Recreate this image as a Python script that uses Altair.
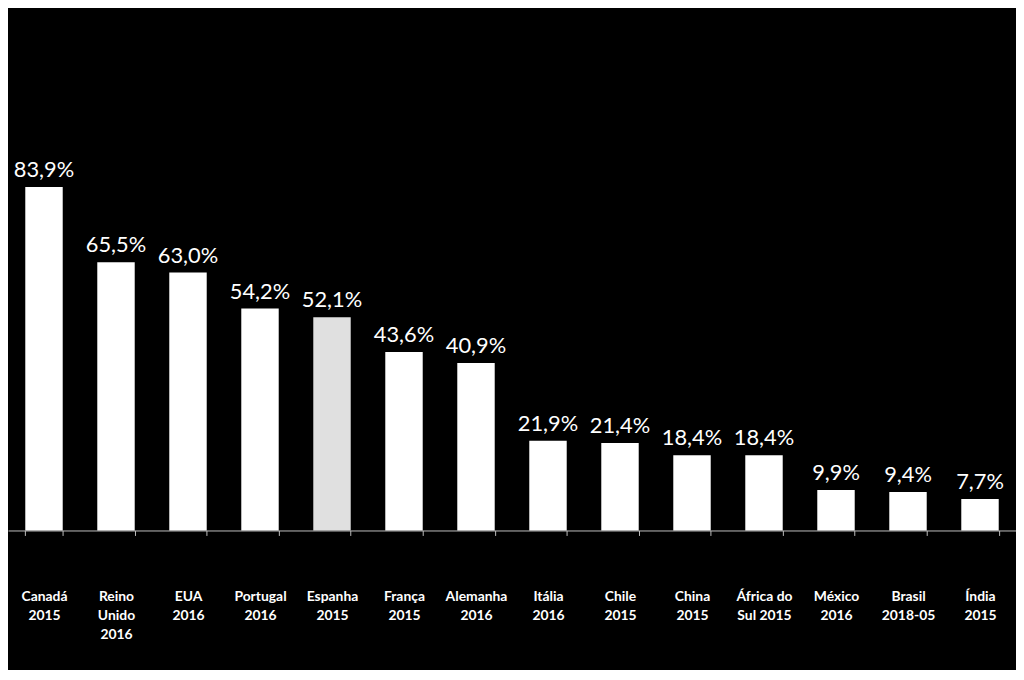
import altair as alt
import pandas as pd

categories = ["Canadá|2015", "Reino|Unido|2016", "EUA|2016", "Portugal|2016", "Espanha|2015",
              "França|2015", "Alemanha|2016", "Itália|2016", "Chile|2015", "China|2015",
              "África do|Sul 2015", "México|2016", "Brasil|2018-05", "Índia|2015"]
values = [83.9, 65.5, 63.0, 54.2, 52.1, 43.6, 40.9, 21.9, 21.4, 18.4, 18.4, 9.9, 9.4, 7.7]
highlight = ["Espanha|2015"]

df = pd.DataFrame({"cat": categories, "val": values})
df["lbl"] = [f"{v:.1f}".replace(".", ",") + "%" for v in values]
df["hl"] = ["sim" if c in highlight else "nao" for c in categories]

base = alt.Chart(df).encode(
    x=alt.X("cat:N", sort=categories, title=None,
            scale=alt.Scale(paddingInner=0.48, paddingOuter=0.24),
            axis=alt.Axis(labelExpr="split(datum.label, '|')", labelAngle=0,
                          labelFont="Lato", labelFontWeight="bold", labelFontSize=14,
                          labelColor="white", labelPadding=55, labelLineHeight=19,
                          labelBaseline="top",
                          domainColor="#bfbfbf", tickColor="#bfbfbf", tickSize=5,
                          tickBand="extent", grid=False)),
    y=alt.Y("val:Q", scale=alt.Scale(domain=[0, 127]), axis=None),
)

bars = base.mark_bar().encode(
    color=alt.Color("hl:N", scale=alt.Scale(domain=["nao", "sim"], range=["#ffffff", "#e0e0e0"]),
                    legend=None)
)
text = base.mark_text(dy=-17, font="Lato", fontSize=22, color="white").encode(text="lbl:N")

chart = (bars + text).properties(
    width=1016, height=524, background="black",
    padding={"left": 0, "top": 0, "right": 0, "bottom": 26}
).configure_view(stroke=None)

chart.save("out.html", embed_options={"renderer": "svg", "actions": False})
